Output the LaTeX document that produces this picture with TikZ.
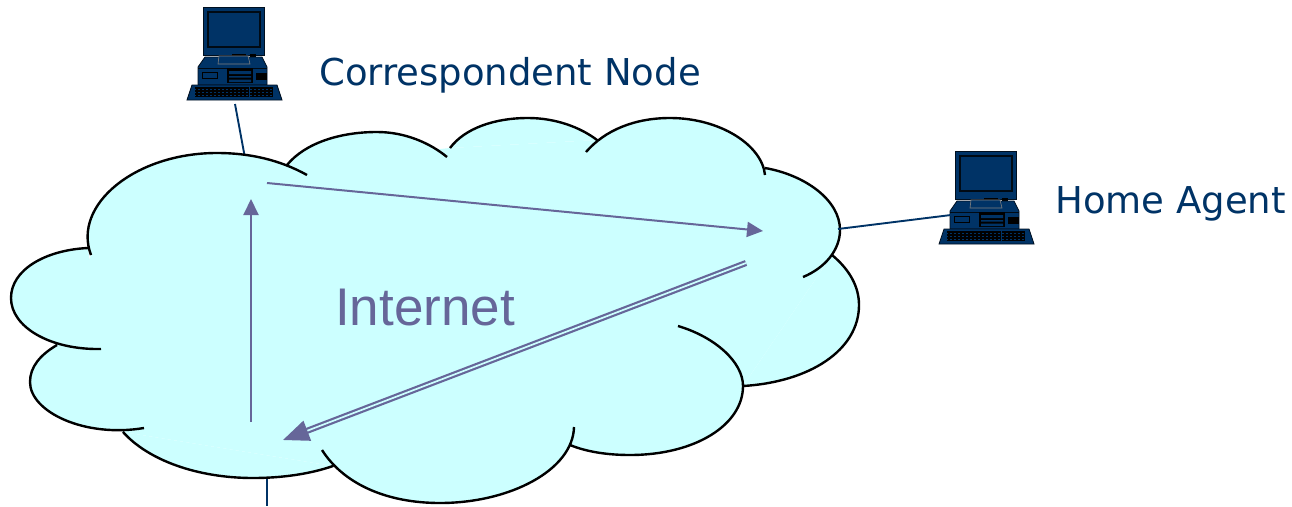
\documentclass[tikz,border=0pt]{standalone}
\usepackage{fontspec}
\setmainfont{DejaVu Sans}
\newfontfamily\cloudfont{Liberation Sans}
\usetikzlibrary{arrows.meta}
\definecolor{navy}{HTML}{003366}
\definecolor{linkpurple}{HTML}{666699}
\definecolor{cloudblue}{HTML}{CCFFFF}
\tikzset{
  hostlabel/.style={anchor=base west,inner sep=0pt,text=navy,font=\fontsize{37}{37}\selectfont},
  hostlink/.style={draw=navy,line width=1.9pt},
  flow/.style={draw=linkpurple,line width=2pt,-{Triangle[length=16pt,width=15pt]}},
  tunnel/.style={draw=linkpurple,line width=2.2pt,double=cloudblue,double distance=1.7pt,-{Triangle[length=26pt,width=21pt]}},
  computer/.pic={
    \filldraw[fill=navy,draw=black!70!navy,line width=1pt] (17,0) -- (78,0) -- (78,48) -- (17,48) -- cycle;
    \draw[black!80!navy,line width=1.5pt] (22,5) rectangle (74,40);
    \fill[black] (46,47) rectangle (60,50);
    \fill[black] (64,47) rectangle (70,50);
    \filldraw[fill=navy,draw=black!70!navy,line width=0.8pt] (19,50) -- (76,50) -- (81,60) -- (81,78) -- (12,78) -- (12,60) -- cycle;
    \filldraw[fill=navy,draw=gray,line width=0.6pt] (33,49) -- (62,49) -- (64,57) -- (32,57) -- cycle;
    \draw[black!80!navy,line width=0.8pt] (12,61) -- (81,61);
    \draw[black,line width=0.8pt] (16,65) rectangle (31,71);
    \fill[black] (41,61) rectangle (67,76);
    \fill[navy] (43,64) rectangle (65,67) (43,69) rectangle (65,70.5) (43,72.5) rectangle (65,75);
    \filldraw[fill=black,draw=black] (70,66) rectangle (80,72);
    \filldraw[fill=navy,draw=black!70!navy,line width=0.8pt] (6,78) -- (91,78) -- (96,93) -- (1,93) -- cycle;
    \fill[black] (9,80) rectangle (87,90);
    \foreach \keyrow in {82,85,88}
      \draw[navy,line width=0.7pt,dash pattern=on 2pt off 2pt] (8,\keyrow) -- (88,\keyrow);
    \draw[navy,line width=1pt] (63,79) -- (63,91);
  }
}
\newcommand{\cloudlobes}{
  (91,255) .. controls (72,205) and (135,153) .. (217,153) .. controls (250,153) and (280,160) .. (307,175)
  (287,165) .. controls (305,143) and (340,132) .. (377,132) .. controls (405,132) and (430,143) .. (447,157)
  (450,148) .. controls (465,128) and (495,118) .. (528,118) .. controls (555,118) and (580,127) .. (597,140)
  (586,152) .. controls (605,130) and (635,118) .. (670,118) .. controls (720,118) and (762,145) .. (765,175)
  (765,168) .. controls (805,175) and (840,200) .. (840,230) .. controls (840,250) and (825,268) .. (803,277)
  (832,255) .. controls (850,270) and (859,287) .. (859,305) .. controls (859,350) and (810,382) .. (743,386)
  (678,326) .. controls (715,337) and (743,362) .. (743,386) .. controls (743,425) and (695,455) .. (630,455) .. controls (608,455) and (587,452) .. (570,445)
  (574,427) .. controls (573,470) and (510,503) .. (440,503) .. controls (385,503) and (343,483) .. (322,450)
  (333,466) .. controls (310,474) and (282,478) .. (253,478) .. controls (197,478) and (148,460) .. (123,432)
  (144,428) .. controls (85,438) and (30,412) .. (30,382) .. controls (30,367) and (40,355) .. (57,345)
  (101,349) .. controls (50,350) and (11,327) .. (11,298) .. controls (11,270) and (45,250) .. (88,248)
}
\begin{document}
\begin{tikzpicture}[x=1pt,y=-1pt]
\useasboundingbox (0,0) rectangle (1292,506);
\coordinate (cntop) at (235,104);
\coordinate (cnedge) at (245,158);
\coordinate (haport) at (951,215);
\coordinate (haedge) at (838,229);
\coordinate (mnedge) at (267,475);
\coordinate (mnend) at (267,506);
\draw[hostlink] (cntop) -- (cnedge);
\draw[hostlink] (mnedge) -- (mnend);
% cloud
\fill[cloudblue] (91,255) -- (287,165) -- (450,148) -- (597,140) -- (765,168) -- (832,255) -- (743,386) -- (630,455) -- (570,445) -- (333,466) -- (123,432) -- (57,345) -- cycle;
\fill[cloudblue] \cloudlobes;
\draw[black,line width=2.4pt] \cloudlobes;
\pic at (186,7) {computer};
\pic at (938,151) {computer};
\draw[hostlink] (haedge) -- (haport);
\node[hostlabel] (correspondent) at (319,85) {Correspondent Node};
\node[hostlabel] (homeagent) at (1055,213) {Home Agent};
\node[anchor=base west,inner sep=0pt,text=linkpurple,font=\cloudfont\fontsize{53}{53}\selectfont] (internet) at (335,325) {Internet};
\coordinate (corner1) at (267,183);
\coordinate (corner2) at (763,231);
\coordinate (corner3) at (746,263);
\coordinate (corner4) at (283,440);
\coordinate (corner5) at (251,422);
\coordinate (corner6) at (251,199);
\draw[flow] (corner1) -- (corner2);
\draw[flow] (corner5) -- (corner6);
\draw[tunnel] (corner3) -- (corner4);
\end{tikzpicture}
\end{document}
